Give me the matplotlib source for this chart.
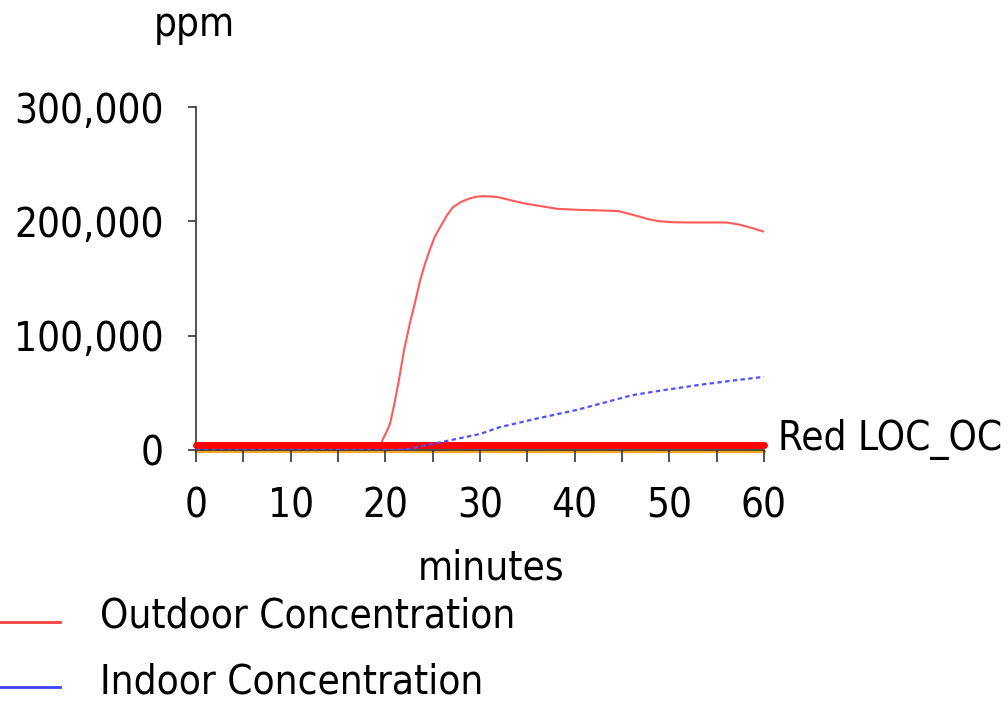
import matplotlib.pyplot as plt
from matplotlib.ticker import FuncFormatter

# outdoor concentration (ppm) vs minutes
tOut = [0, 19.4, 19.7, 19.9, 20.2, 20.5, 21, 21.5, 22, 22.6, 23.2, 23.7, 24.2, 24.7, 25.2,
        25.8, 26.5, 27.1, 28, 28.9, 29.6, 30.3, 31.2, 32, 33, 34.5, 36.3, 38.1, 40.6,
        43, 44.6, 45.8, 46.9, 48, 49, 50.5, 52, 56.1, 57.5, 58.8, 60]
outdoor = [0, 0, 8700, 12000, 17000, 23000, 42000, 64000, 88000, 111000, 131000, 149000,
           163000, 175000, 186000, 195000, 205000, 212000, 217000, 220000, 221500, 222000,
           221800, 221000, 219000, 216000, 213500, 211000, 210000, 209500, 209000, 206500,
           204000, 201500, 200000, 199200, 199000, 199000, 197000, 194000, 191000]

# indoor concentration
tIn = [0, 21.3, 22.5, 25.4, 30, 32.1, 36, 40.2, 46.1, 49.5, 53.2, 56.5, 60]
indoor = [0, 0, 1000, 6000, 14000, 20000, 27500, 35000, 48000, 52500, 57000, 60500, 64000]

# level of concern lines
tLoc = [0, 60]
redLoc = [4500, 4500]
orangeLoc = [-1100, -1100]

xticks = [0, 10, 20, 30, 40, 50, 60]
yticks = [0, 100000, 200000, 300000]

fnt = dict(family='DejaVu Sans', stretch='condensed')
fs = 29

fig = plt.figure(figsize=(10.08, 7.06), dpi=100)
ax = fig.add_axes([0.1944, 0.3626, 0.5635, 0.4858])

ax.plot(tLoc, orangeLoc, color='#f5a623', lw=2.2, zorder=1, clip_on=False)
ax.plot(tOut, outdoor, color='#ff5a5a', lw=1.5, zorder=2)
ax.plot(tLoc, redLoc, color='#ff0000', lw=5, solid_capstyle='round', zorder=3, clip_on=False)
ax.plot(tIn, indoor, color='#5050ff', lw=1.6, ls=(0, (2, 1.5)), zorder=4)

ax.set_xlim(0, 60)
ax.set_ylim(0, 300000)
ax.set_xticks(xticks)
ax.set_xticks([5, 15, 25, 35, 45, 55], minor=True)
ax.set_yticks(yticks)
ax.yaxis.set_major_formatter(FuncFormatter(lambda v, p: f'{int(v):,}'))
for s in ['top', 'right']:
    ax.spines[s].set_visible(False)
for s in ['left', 'bottom']:
    ax.spines[s].set_color('#333333')
    ax.spines[s].set_linewidth(1.2)
ax.tick_params(axis='x', which='both', direction='out', length=8.5, width=1.2, color='#333333', pad=18)
ax.tick_params(axis='y', direction='out', length=6, width=1.2, color='#333333', pad=17)
for lab in ax.get_xticklabels() + ax.get_yticklabels():
    lab.set_fontsize(fs)
    lab.set_fontfamily('DejaVu Sans')
    lab.set_fontstretch('condensed')

fig.text(194/1008, 1 - 25/706, 'ppm', ha='center', va='center', fontsize=fs, **fnt)
fig.text(491/1008, 1 - 569/706, 'minutes', ha='center', va='center', fontsize=fs, **fnt)
fig.text(778/1008, 1 - 440/706, 'Red LOC_OC', ha='left', va='center', fontsize=fs, **fnt)

# legend drawn by hand
fig.add_artist(plt.Line2D([0, 60/1008], [1 - 622/706] * 2, color='#ff4040', lw=2))
fig.add_artist(plt.Line2D([0, 60/1008], [1 - 687/706] * 2, color='#4040ff', lw=2))
fig.text(100/1008, 1 - 617/706, 'Outdoor Concentration', ha='left', va='center', fontsize=fs, **fnt)
fig.text(100/1008, 1 - 683/706, 'Indoor Concentration', ha='left', va='center', fontsize=fs, **fnt)

fig.savefig('out.png', dpi=100)
